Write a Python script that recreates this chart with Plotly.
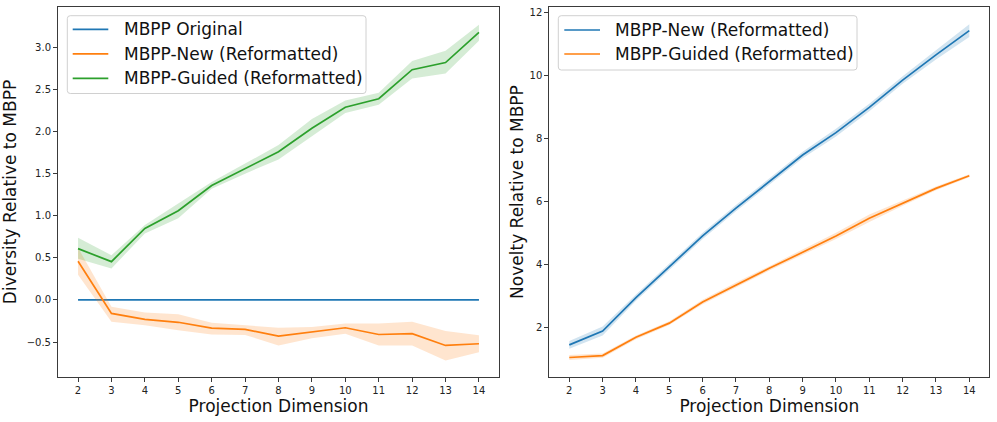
import plotly.graph_objects as go

# ---- data ----
dims = [2, 3, 4, 5, 6, 7, 8, 9, 10, 11, 12, 13, 14]

# Left: diversity relative to MBPP
div_original = [0, 0, 0, 0, 0, 0, 0, 0, 0, 0, 0, 0, 0]
div_new = [0.46, -0.16, -0.23, -0.265, -0.335, -0.35, -0.43, -0.38, -0.33, -0.41, -0.40, -0.54, -0.52]
div_new_lo = [0.30, -0.26, -0.30, -0.36, -0.41, -0.415, -0.54, -0.455, -0.40, -0.54, -0.54, -0.72, -0.62]
div_new_hi = [0.62, -0.08, -0.15, -0.17, -0.27, -0.30, -0.33, -0.32, -0.28, -0.28, -0.26, -0.37, -0.42]
div_guided = [0.61, 0.455, 0.85, 1.06, 1.36, 1.56, 1.76, 2.04, 2.29, 2.39, 2.735, 2.82, 3.18]
div_guided_lo = [0.49, 0.375, 0.79, 0.97, 1.32, 1.50, 1.67, 1.94, 2.22, 2.32, 2.63, 2.69, 3.08]
div_guided_hi = [0.74, 0.53, 0.89, 1.15, 1.40, 1.62, 1.84, 2.15, 2.37, 2.46, 2.84, 2.96, 3.27]

# Right: novelty relative to MBPP
nov_new = [1.44, 1.88, 2.94, 3.93, 4.90, 5.78, 6.62, 7.47, 8.18, 8.98, 9.85, 10.65, 11.42]
nov_new_lo = [1.32, 1.74, 2.84, 3.83, 4.80, 5.68, 6.52, 7.37, 8.06, 8.86, 9.73, 10.50, 11.22]
nov_new_hi = [1.56, 2.02, 3.04, 4.03, 5.00, 5.88, 6.72, 7.57, 8.30, 9.10, 9.97, 10.80, 11.62]
nov_guided = [1.04, 1.10, 1.68, 2.13, 2.80, 3.34, 3.87, 4.38, 4.90, 5.46, 5.94, 6.41, 6.81]
nov_guided_lo = [0.96, 1.03, 1.62, 2.07, 2.73, 3.26, 3.80, 4.30, 4.80, 5.34, 5.86, 6.35, 6.76]
nov_guided_hi = [1.12, 1.17, 1.74, 2.19, 2.87, 3.42, 3.94, 4.46, 5.00, 5.58, 6.02, 6.47, 6.86]

left_names = ["MBPP Original", "MBPP-New (Reformatted)", "MBPP-Guided (Reformatted)"]
right_names = ["MBPP-New (Reformatted)", "MBPP-Guided (Reformatted)"]

BLUE = "#1f77b4"
ORANGE = "#ff7f0e"
GREEN = "#2ca02c"
BAND = {BLUE: "rgba(31,119,180,0.2)", ORANGE: "rgba(255,127,14,0.2)", GREEN: "rgba(44,160,44,0.2)"}

W, H = 997, 422
FONT = "DejaVu Sans"

fig = go.Figure()


def add_series(x, y, lo, hi, color, name, xa, ya):
    if lo is not None:
        fig.add_trace(go.Scatter(x=x, y=lo, mode="lines", line=dict(width=0, color=color),
                                 showlegend=False, hoverinfo="skip", xaxis=xa, yaxis=ya))
        fig.add_trace(go.Scatter(x=x, y=hi, mode="lines", line=dict(width=0, color=color),
                                 fill="tonexty", fillcolor=BAND[color],
                                 showlegend=False, hoverinfo="skip", xaxis=xa, yaxis=ya))
    fig.add_trace(go.Scatter(x=x, y=y, mode="lines", line=dict(width=1.7, color=color),
                             name=name, showlegend=False, xaxis=xa, yaxis=ya))


add_series(dims, div_original, None, None, BLUE, left_names[0], "x", "y")
add_series(dims, div_new, div_new_lo, div_new_hi, ORANGE, left_names[1], "x", "y")
add_series(dims, div_guided, div_guided_lo, div_guided_hi, GREEN, left_names[2], "x", "y")
add_series(dims, nov_new, nov_new_lo, nov_new_hi, BLUE, right_names[0], "x2", "y2")
add_series(dims, nov_guided, nov_guided_lo, nov_guided_hi, ORANGE, right_names[1], "x2", "y2")


# ---- matplotlib-style legend boxes (paper coordinates from pixel positions) ----
def px(x):
    return x / W


def py(y):
    return 1 - y / H


def rounded_box(x0, y0, x1, y1, r=3):
    pts = [
        f"M {px(x0 + r)},{py(y0)}", f"L {px(x1 - r)},{py(y0)}", f"Q {px(x1)},{py(y0)} {px(x1)},{py(y0 + r)}",
        f"L {px(x1)},{py(y1 - r)}", f"Q {px(x1)},{py(y1)} {px(x1 - r)},{py(y1)}",
        f"L {px(x0 + r)},{py(y1)}", f"Q {px(x0)},{py(y1)} {px(x0)},{py(y1 - r)}",
        f"L {px(x0)},{py(y0 + r)}", f"Q {px(x0)},{py(y0)} {px(x0 + r)},{py(y0)}", "Z",
    ]
    return " ".join(pts)


def add_legend(box, line_x, text_x, rows, names, colors):
    fig.add_shape(type="path", path=rounded_box(*box), xref="paper", yref="paper",
                  line=dict(color="#d0d0d0", width=1), fillcolor="rgba(255,255,255,0.8)", layer="above")
    for yy, name, c in zip(rows, names, colors):
        fig.add_shape(type="line", xref="paper", yref="paper", x0=px(line_x[0]), x1=px(line_x[1]),
                      y0=py(yy), y1=py(yy), line=dict(color=c, width=1.7), layer="above")
        fig.add_annotation(x=px(text_x), y=py(yy), xref="paper", yref="paper", text=name,
                           showarrow=False, xanchor="left", yanchor="middle",
                           font=dict(family=FONT, size=17, color="#111111"))


add_legend((67.3, 15.7, 366, 93.5), (72.7, 108.3), 121.7, [29.3, 53.8, 78.3], left_names, [BLUE, ORANGE, GREEN])
add_legend((558.3, 15.7, 857, 70), (564.3, 600), 613.3, [30, 54], right_names, [BLUE, ORANGE])

axis_common = dict(showgrid=False, zeroline=False, showline=True, mirror=True, automargin=False,
                   linecolor="#3a3a3a", linewidth=1, ticks="outside", ticklen=4,
                   tickcolor="#3a3a3a", tickfont=dict(family=FONT, size=10, color="#222222"))
TITLE_FONT = dict(family=FONT, size=17, color="#111111")

fig.update_layout(
    width=W, height=H,
    margin=dict(l=0, r=0, t=0, b=0, autoexpand=False),
    paper_bgcolor="white", plot_bgcolor="white",
    font=dict(family=FONT),
    showlegend=False,
    xaxis=dict(domain=[58 / W, 499 / W], range=[1.4, 14.6], tickmode="array", tickvals=dims,
               title=dict(text="Projection Dimension", font=TITLE_FONT, standoff=2),
               **axis_common),
    yaxis=dict(domain=[1 - 377 / H, 1 - 7 / H], range=[-0.915, 3.48], tickmode="linear", tick0=0, dtick=0.5,
               tickformat=".1f",
               title=dict(text="Diversity Relative to MBPP", font=TITLE_FONT, standoff=9),
               **axis_common),
    xaxis2=dict(domain=[549.3 / W, 989.3 / W], range=[1.4, 14.6], tickmode="array", tickvals=dims, anchor="y2",
                title=dict(text="Projection Dimension", font=TITLE_FONT, standoff=2),
                **axis_common),
    yaxis2=dict(domain=[1 - 377 / H, 1 - 7 / H], range=[0.42, 12.17], tickmode="linear", tick0=0, dtick=2,
                anchor="x2",
                title=dict(text="Novelty Relative to MBPP", font=TITLE_FONT, standoff=1),
                **axis_common),
)

fig.write_html("out.html", config={"displayModeBar": False},
               post_script="document.body.style.margin='0px';document.body.style.overflow='hidden';")
